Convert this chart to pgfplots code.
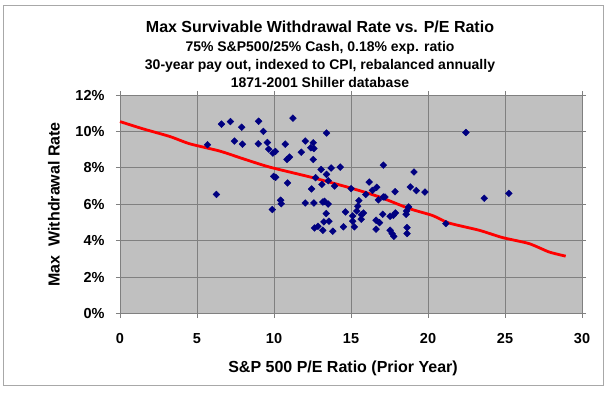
\documentclass[border=0pt]{standalone}
\usepackage{fontspec}
\setmainfont{Liberation Sans}
\usepackage{pgfplots}
\pgfplotsset{compat=1.18}
\definecolor{plotbg}{HTML}{C0C0C0}
\definecolor{gridc}{HTML}{808080}
\definecolor{navy}{HTML}{000080}
\definecolor{framec}{HTML}{A8A8A8}

\begin{document}
\begin{tikzpicture}[x=1pt,y=1pt]
\useasboundingbox (-120,-78.5) rectangle (489,313.5);
\draw[framec, line width=0.8pt] (-116.5,-72.2) rectangle (483,308.5);
\node[anchor=base, font=\bfseries\fontsize{16}{18}\selectfont] at (200,281.5) {Max Survivable Withdrawal Rate vs. P/E Ratio};
\node[anchor=base, font=\bfseries\fontsize{14}{16}\selectfont] at (200,262.5) {75\% S\&P500/25\% Cash, 0.18\% exp. ratio};
\node[anchor=base, font=\bfseries\fontsize{14}{16}\selectfont] at (200,244.5) {30-year pay out, indexed to CPI, rebalanced annually};
\node[anchor=base, font=\bfseries\fontsize{14}{16}\selectfont] at (200,226.5) {1871-2001 Shiller database};
\begin{axis}[at={(0,0)}, anchor=south west, scale only axis,
  width=462pt, height=218.5pt,
  xmin=0, xmax=30, ymin=0, ymax=12,
  xtick={0,5,...,30}, ytick={0,2,...,12},
  axis background/.style={fill=plotbg},
  grid=major, major grid style={gridc, line width=0.7pt},
  axis line style={gridc, line width=0.7pt},
  tick align=outside, major tick length=4pt,
  tick style={gridc, line width=0.7pt},
  /pgf/number format/assume math mode=true,
  ticklabel style={font=\bfseries\fontsize{14.5}{16}\selectfont},
  yticklabel={\pgfmathprintnumber{\tick}\%},
  xticklabel style={anchor=base, yshift=-25.5pt},
  yticklabel style={anchor=east, xshift=-8pt},
  xlabel={S\&P 500 P/E Ratio (Prior Year)},
  ylabel={Max\ \ Withdrawal Rate},
  label style={font=\bfseries\fontsize{16}{18}\selectfont},
  xlabel style={at={(axis description cs:0.5,0)}, anchor=center, yshift=-54.5pt, xshift=-8pt},
  ylabel style={at={(axis description cs:0,0.5)}, anchor=center, yshift=66pt},
  clip=false,
]
\addplot[only marks, mark=square*, mark size=2.4pt, mark options={rotate=45, fill=navy, draw=navy}] coordinates {
(5.68,9.27) (6.59,10.40) (7.17,10.54) (7.90,10.23) (9.00,10.56) (9.31,10.00)
(7.43,9.47) (7.95,9.30) (8.98,9.32) (9.57,9.39) (9.65,9.03) (9.93,8.81)
(10.09,8.90) (9.98,7.53) (10.11,7.48) (6.26,6.54) (9.89,5.71) (11.23,10.73)
(13.41,9.91) (10.73,9.30) (12.03,9.47) (12.55,9.38) (11.77,8.86) (12.39,9.10)
(12.59,9.06) (10.84,8.46) (11.01,8.59) (12.55,8.46) (13.06,7.91) (13.71,7.99)
(14.30,8.04) (13.41,7.64) (12.70,7.46) (13.52,7.29) (10.88,7.17) (13.11,7.09)
(13.93,7.00) (12.44,6.84) (15.01,6.86) (17.10,8.15) (19.09,7.77) (16.18,7.22)
(16.67,6.93) (16.39,6.76) (17.86,6.69) (18.85,6.95) (19.24,6.75) (19.80,6.67)
(15.96,6.54) (15.51,6.20) (16.78,6.24) (17.10,6.40) (17.21,6.40) (10.43,6.22)
(10.47,6.03) (12.03,6.07) (12.59,6.07) (13.17,6.12) (13.28,6.16) (13.52,6.01)
(15.44,5.89) (15.37,5.63) (15.81,5.52) (15.68,5.43) (18.74,5.85) (18.61,5.63)
(14.64,5.58) (15.11,5.36) (13.39,5.49) (17.88,5.52) (17.75,5.39) (17.06,5.45)
(13.24,5.03) (13.57,5.07) (12.63,4.70) (12.85,4.79) (13.17,4.57) (13.82,4.52)
(14.51,4.76) (15.11,5.07) (15.22,4.76) (15.66,5.18) (16.63,5.12) (16.85,4.99)
(16.63,4.63) (17.54,5.34) (17.54,4.57) (17.67,4.39) (17.78,4.24) (18.58,5.45)
(18.64,4.72) (18.64,4.39) (22.46,9.94) (23.65,6.33) (25.25,6.60) (21.16,4.94)
};
\addplot[red, line width=2.8pt, smooth, tension=0.4] coordinates {
(0,10.54) (1.5,10.14) (3.24,9.72) (4.53,9.32) (6.48,8.92) (7.99,8.50)
(9.72,8.04) (12.52,7.46) (15.11,6.86) (16.85,6.40) (18.79,5.76) (20.3,5.38)
(21.36,4.97) (23.33,4.57) (24.84,4.17) (26.56,3.84) (27.86,3.38) (28.94,3.15)
};
\end{axis}
\end{tikzpicture}
\end{document}
